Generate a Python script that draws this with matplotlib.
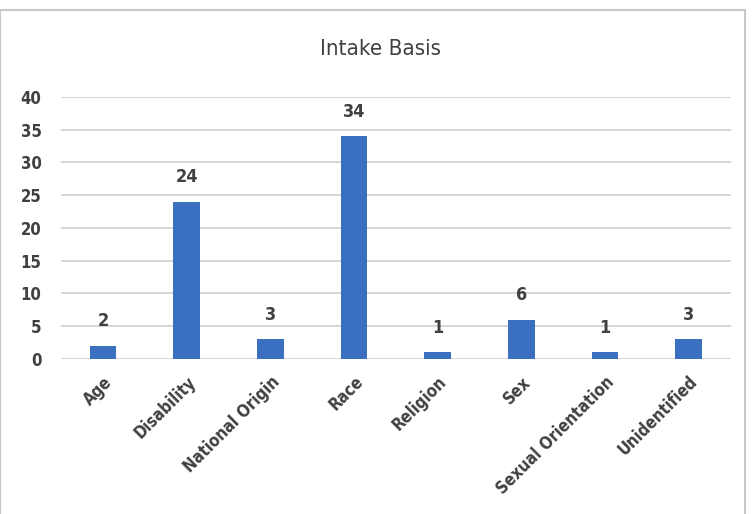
import matplotlib.pyplot as plt
from matplotlib.patches import Rectangle

categories = ["Age", "Disability", "National Origin", "Race", "Religion",
              "Sex", "Sexual Orientation", "Unidentified"]
counts = [2, 24, 3, 34, 1, 6, 1, 3]
yticks = [0, 5, 10, 15, 20, 25, 30, 35, 40]

plt.rcParams['font.family'] = ['DejaVu Sans']
plt.rcParams['font.stretch'] = 'condensed'
txt = '#404040'

fig = plt.figure(figsize=(7.54, 5.14), dpi=100)
ax = fig.add_axes([0.081, 0.3016, 0.888, 0.5097])

# frame of the chart area
fig.patches.append(Rectangle((0.0, -0.01), 0.988, 0.99, transform=fig.transFigure,
                             fill=False, edgecolor='#c8c8c8', linewidth=1.5))

x = range(len(categories))
ax.bar(x, counts, width=0.32, color='#3b6fc0', zorder=3)
for i, v in zip(x, counts):
    ax.text(i, v + 2.4, str(v), ha='center', va='bottom', fontsize=13,
            fontweight='bold', fontstretch='condensed', color=txt)

ax.set_xlim(-0.5, len(categories) - 0.5)
ax.set_ylim(0, 40)
ax.set_yticks(yticks)
ax.set_yticklabels([str(t) for t in yticks], fontsize=12, fontweight='bold',
                   fontstretch='condensed', color=txt)
ax.set_xticks(list(x))
ax.set_xticklabels(categories, rotation=45, ha='right', rotation_mode='anchor',
                   fontsize=12, fontweight='bold', fontstretch='condensed', color=txt)
ax.tick_params(axis='x', length=0, pad=10)
ax.tick_params(axis='y', length=0, pad=14)
ax.grid(axis='y', color='#d0d0d0', linewidth=1.2, zorder=0)
for s in ax.spines.values():
    s.set_visible(False)

fig.text(0.505, 0.905, "Intake Basis", ha='center', va='center', fontsize=16,
         fontstretch='condensed', color=txt)

fig.savefig('out.png', dpi=100)
